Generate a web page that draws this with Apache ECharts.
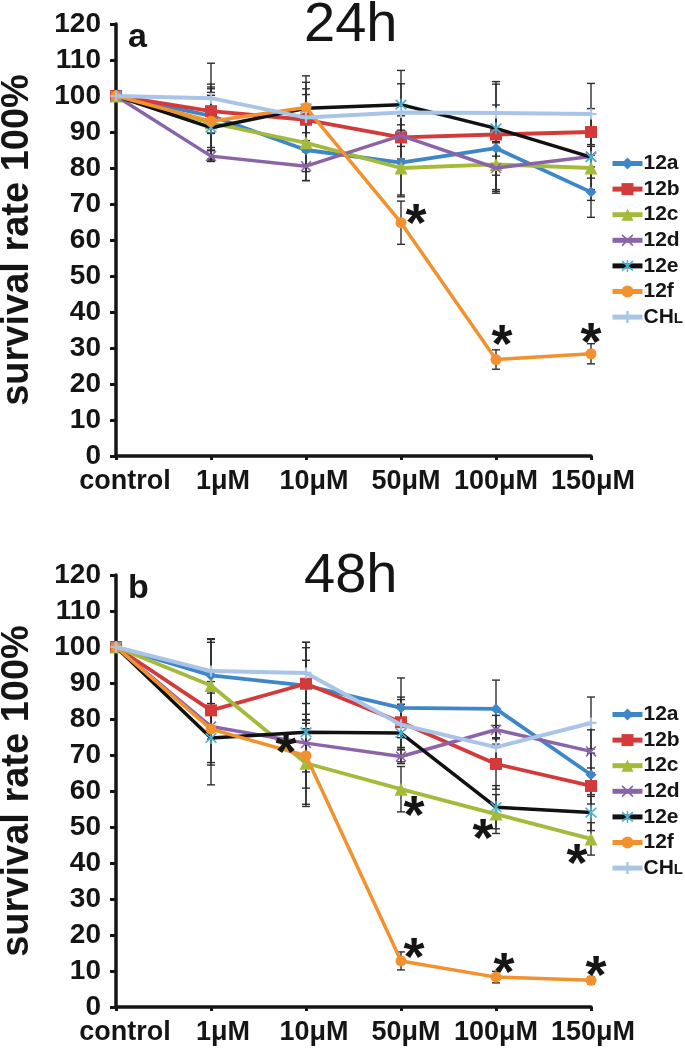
<!DOCTYPE html>
<html>
<head>
<meta charset="utf-8">
<script src="https://cdn.jsdelivr.net/npm/echarts@6/dist/echarts.min.js"></script>
<style>html,body{margin:0;padding:0;background:#fff;}#c{width:685px;height:1056px;}</style>
</head>
<body>
<div id="c"></div>
<script>
// ---------- data ----------
const categories = ['control', '1μM', '10μM', '50μM', '100μM', '150μM'];
const seriesNames = ['12a', '12b', '12c', '12d', '12e', '12f', 'CHL'];
const yMin = 0, yMax = 120, yStep = 10;
const panelTitles = ['24h', '48h'];
const panelLetters = ['a', 'b'];

// 24h values
const v24_12a = [100, 94.5, 85.0, 81.5, 85.5, 73.3];
const v24_12b = [100, 95.8, 93.4, 88.5, 89.3, 90.0];
const v24_12c = [100, 92.5, 87.0, 80.0, 81.0, 80.0];
const v24_12d = [100, 83.3, 80.5, 89.0, 80.0, 83.2];
const v24_12e = [100, 91.2, 96.6, 97.6, 91.0, 83.0];
const v24_12f = [100, 93.0, 96.8, 64.8, 26.8, 28.4];
const v24_CHL = [100, 99.4, 94.0, 95.4, 95.3, 95.0];
// 24h error (±)
const e24_12a = [0, 8.8, 8.5, 9.0, 12.0, 7.0];
const e24_12b = [0, 6.2, 7.0, 6.0, 6.0, 6.5];
const e24_12c = [0, 10.0, 8.0, 8.0, 7.0, 6.0];
const e24_12d = [0, 1.5, 4.0, 3.0, 7.0, 6.0];
const e24_12e = [0, 9.0, 9.0, 9.5, 13.0, 12.0];
const e24_12f = [0, 8.0, 7.0, 6.0, 2.7, 2.8];
const e24_CHL = [0, 9.7, 8.0, 8.0, 8.0, 8.5];

// 48h values
const v48_12a = [100, 92.1, 89.3, 83.1, 82.8, 64.5];
const v48_12b = [100, 82.4, 89.8, 79.1, 67.5, 61.4];
const v48_12c = [100, 89.3, 67.7, 60.5, 53.6, 46.7];
const v48_12d = [100, 77.9, 73.3, 69.6, 77.0, 71.0];
const v48_12e = [100, 74.7, 76.3, 76.1, 55.5, 54.0];
const v48_12f = [100, 77.2, 69.8, 12.8, 8.3, 7.4];
const v48_CHL = [100, 93.3, 92.8, 78.4, 72.2, 78.9];
// 48h error (±)
const e48_12a = [0, 10.0, 12.0, 8.3, 8.0, 6.0];
const e48_12b = [0, 8.0, 10.0, 7.0, 7.0, 5.0];
const e48_12c = [0, 12.0, 12.0, 6.3, 5.4, 4.5];
const e48_12d = [0, 10.0, 8.0, 2.0, 4.0, 6.0];
const e48_12e = [0, 13.0, 20.0, 8.0, 6.0, 5.0];
const e48_12f = [0, 10.0, 9.0, 2.5, 1.6, 1.0];
const e48_CHL = [0, 9.0, 8.5, 7.0, 6.0, 7.2];

// significance asterisks: category indices marked on a series
const stars24_12f = [3, 4, 5];
const stars48_12c = [2, 3, 4, 5];
const stars48_12f = [3, 4, 5];

// ---------- styles ----------
const FONT = '"Liberation Sans", Arial, Helvetica, sans-serif';
const INK = '#151515';
const colors = {
  '12a': '#3d86c8', '12b': '#d33a3a', '12c': '#a5b93b', '12d': '#8a64a8',
  '12e': '#111111', '12f': '#f3912f', 'CHL': '#a9c4e7'
};
const markerColors = { '12e': '#48b4d6' };
const xMark = 'path://M0,1L1,0L5,4L9,0L10,1L6,5L10,9L9,10L5,6L1,10L0,9L4,5Z';
const starMark = 'path://M0,1.6L1,0.6L5,4.2L9,0.6L10,1.6L6,5L10,8.4L9,9.4L5,5.8L1,9.4L0,8.4L4,5Z M4.4,0L5.6,0L5.6,10L4.4,10Z';
const plusMark = 'path://M4,0H6V4H10V6H6V10H4V6H0V4H4Z';
const symbols = {
  '12a': ['diamond', 11], '12b': ['rect', 12], '12c': ['triangle', 13], '12d': [xMark, 11],
  '12e': [starMark, 12], '12f': ['circle', 11], 'CHL': [plusMark, 11]
};
const lineWidths = { '12a': 3.8, '12b': 3.8, '12c': 3.8, '12d': 3.5, '12e': 3.5, '12f': 3.5, 'CHL': 4 };
// horizontal nudge of each category label (px, style only)
const labelShift = [9, 12, 8, 5, 0, 2];

const vals = [
  { '12a': v24_12a, '12b': v24_12b, '12c': v24_12c, '12d': v24_12d, '12e': v24_12e, '12f': v24_12f, 'CHL': v24_CHL },
  { '12a': v48_12a, '12b': v48_12b, '12c': v48_12c, '12d': v48_12d, '12e': v48_12e, '12f': v48_12f, 'CHL': v48_CHL }
];
const errs = [
  { '12a': e24_12a, '12b': e24_12b, '12c': e24_12c, '12d': e24_12d, '12e': e24_12e, '12f': e24_12f, 'CHL': e24_CHL },
  { '12a': e48_12a, '12b': e48_12b, '12c': e48_12c, '12d': e48_12d, '12e': e48_12e, '12f': e48_12f, 'CHL': e48_CHL }
];
// asterisk pixel offsets relative to the marked point (style only)
const starOffsets = [
  [{ s: '12f', idx: stars24_12f, off: [[15, -10], [6, -25], [0, -22]] }],
  [{ s: '12c', idx: stars48_12c, off: [[-20, -21], [13, 16], [-13, 14], [-14, 14]] },
   { s: '12f', idx: stars48_12f, off: [[13, -14], [8, -15], [5, -15]] }]
];

const gridTops = [24, 575];
const PLOT_H = 432, PLOT_W = 475, PLOT_L = 116;

const xRich = {};
categories.forEach(function (c, i) {
  xRich['c' + i] = { fontFamily: FONT, fontWeight: 'bold', fontSize: 27, color: INK,
    padding: [0, labelShift[i] < 0 ? -2 * labelShift[i] : 0, 0, labelShift[i] > 0 ? 2 * labelShift[i] : 0] };
});

const grids = [], xAxes = [], yAxes = [], series = [], legends = [];
for (let p = 0; p < 2; p++) {
  grids.push({ left: PLOT_L, top: gridTops[p], width: PLOT_W, height: PLOT_H, containLabel: false, outerBoundsMode: 'none' });
  xAxes.push({
    gridIndex: p, type: 'category', data: categories, boundaryGap: false,
    axisLine: { lineStyle: { color: INK, width: 3.5 } },
    axisTick: { show: true, length: 4, lineStyle: { color: INK, width: 3 } },
    axisLabel: { color: INK, fontFamily: FONT, fontWeight: 'bold', fontSize: 27, margin: 12, interval: 0,
      formatter: function (v, i) { return '{c' + i + '|' + v + '}'; }, rich: xRich },
    splitLine: { show: false }
  });
  yAxes.push({
    gridIndex: p, type: 'value', min: yMin, max: yMax, interval: yStep,
    name: 'survival rate 100%', nameLocation: 'middle', nameRotate: 90, nameGap: 79,
    nameTextStyle: { color: INK, fontFamily: FONT, fontWeight: 'bold', fontSize: 38 },
    axisLine: { show: true, lineStyle: { color: INK, width: 3.5 } },
    axisTick: { show: true, length: 6, lineStyle: { color: INK, width: 3 } },
    axisLabel: { color: INK, fontFamily: FONT, fontWeight: 'bold', fontSize: 28, margin: 15 },
    splitLine: { show: false }
  });
  // error bars
  seriesNames.forEach(function (name) {
    const v = vals[p][name], e = errs[p][name];
    series.push({
      type: 'custom', xAxisIndex: p, yAxisIndex: p, z: 1, silent: true,
      data: v.map(function (val, i) { return [i, val, e[i]]; }),
      renderItem: function (params, api) {
        const i = api.value(0), val = api.value(1), er = api.value(2);
        if (!er) return null;
        const t = api.coord([i, val + er]), b = api.coord([i, val - er]);
        const cw = 4;
        const st = { stroke: '#2e2e2e', lineWidth: 1.4 };
        return { type: 'group', children: [
          { type: 'line', shape: { x1: t[0], y1: t[1], x2: b[0], y2: b[1] }, style: st },
          { type: 'line', shape: { x1: t[0] - cw, y1: t[1], x2: t[0] + cw, y2: t[1] }, style: st },
          { type: 'line', shape: { x1: b[0] - cw, y1: b[1], x2: b[0] + cw, y2: b[1] }, style: st }
        ] };
      }
    });
  });
  // lines
  seriesNames.forEach(function (name, k) {
    series.push({
      name: name, type: 'line', xAxisIndex: p, yAxisIndex: p, z: 3 + k,
      data: vals[p][name], symbol: symbols[name][0], symbolSize: symbols[name][1],
      showAllSymbol: true, animation: false,
      lineStyle: { color: colors[name], width: lineWidths[name] },
      itemStyle: { color: markerColors[name] || colors[name] }
    });
  });
  // asterisks
  starOffsets[p].forEach(function (grp) {
    const v = vals[p][grp.s];
    series.push({
      type: 'custom', xAxisIndex: p, yAxisIndex: p, z: 20, silent: true,
      data: grp.idx.map(function (i, j) { return [i, v[i], j]; }),
      renderItem: function (params, api) {
        const i = api.value(0), val = api.value(1), j = api.value(2);
        const c = api.coord([i, val]);
        const o = grp.off[j];
        return { type: 'text', x: c[0] + o[0], y: c[1] + o[1] + 13,
          style: { text: '*', fill: INK, font: 'bold 54px ' + FONT, align: 'center', verticalAlign: 'middle' } };
      }
    });
  });
  legends.push({
    data: seriesNames, orient: 'vertical', left: 610, top: gridTops[p] + 129, padding: 0,
    itemWidth: 30, itemHeight: 15, itemGap: 4.6,
    lineStyle: { width: 5 },
    formatter: function (n) { return n === 'CHL' ? '{a|CH}{b|L}' : n; },
    textStyle: { color: INK, fontFamily: FONT, fontWeight: 'bold', fontSize: 21, lineHeight: 21, padding: [0, 0, 0, -4],
      rich: { a: { fontFamily: FONT, fontWeight: 'bold', fontSize: 21, color: INK, lineHeight: 21 },
              b: { fontFamily: FONT, fontWeight: 'bold', fontSize: 15, color: INK, lineHeight: 21, verticalAlign: 'bottom', padding: [0, 0, 1, 0] } } }
  });
}

const graphics = [];
for (let p = 0; p < 2; p++) {
  graphics.push({ type: 'text', left: 351 - 47, top: gridTops[p] - 26,
    style: { text: panelTitles[p], font: '56px ' + FONT, fill: INK } });
  graphics.push({ type: 'text', left: 128, top: gridTops[p] - 3,
    style: { text: panelLetters[p], font: 'bold 34px ' + FONT, fill: INK } });
}

const chart = echarts.init(document.getElementById('c'), null, { renderer: 'canvas' });
chart.setOption({
  animation: false,
  backgroundColor: '#ffffff',
  grid: grids, xAxis: xAxes, yAxis: yAxes, legend: legends, series: series, graphic: graphics
});
</script>
</body>
</html>
